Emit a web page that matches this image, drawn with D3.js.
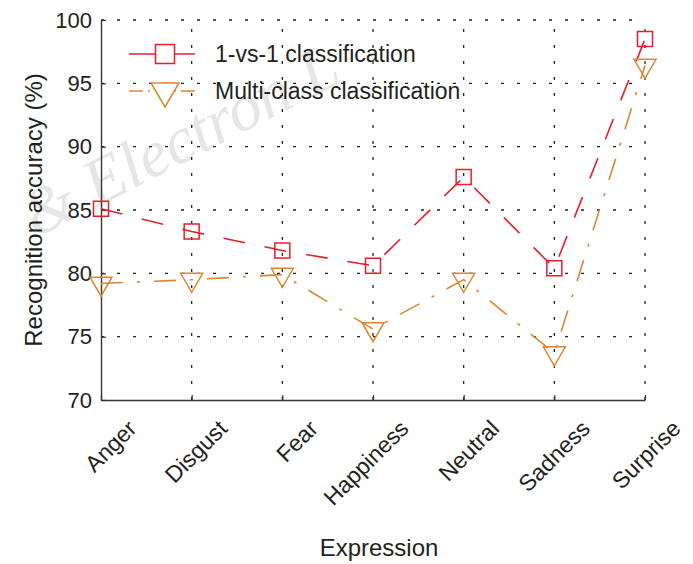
<!DOCTYPE html>
<html>
<head>
<meta charset="utf-8">
<script src="https://cdn.jsdelivr.net/npm/d3@7"></script>
<style>
	body { margin: 0; background: #fff; }
	text { font-family: "Liberation Sans", Arial, sans-serif; fill: #231f20; }
</style>
</head>
<body>
<div id="chart"></div>
<script>
const categories = ["Anger", "Disgust", "Fear", "Happiness", "Neutral", "Sadness", "Surprise"];
const oneVsOne = [85.1, 83.3, 81.8, 80.6, 87.6, 80.4, 98.5];
const multiClass = [79.2, 79.5, 79.9, 75.6, 79.5, 73.7, 96.4];
const yTicks = [70, 75, 80, 85, 90, 95, 100];
const seriesNames = ["1-vs-1 classification", "Multi-class classification"];

const W = 693, H = 564;
const margin = { top: 20, right: 48, bottom: 164, left: 101 };

const red = "#ec1c2a", orange = "#dc8635", axisCol = "#3a3434";

const svg = d3.select("#chart").append("svg")
	.attr("width", W).attr("height", H);

// watermark (faint, behind everything)
svg.append("text")
	.attr("transform", "translate(36,238) rotate(-27)")
	.style("font-family", "'Liberation Serif', serif")
	.style("font-style", "italic")
	.style("font-size", "66px")
	.style("fill", "#e6e6e6")
	.text("& Electron L");

const x = d3.scalePoint().domain(categories).range([margin.left, W - margin.right]);
const y = d3.scaleLinear().domain([70, 100]).range([H - margin.bottom, margin.top]);

const x0 = x.range()[0], x1 = x.range()[1], y0 = y.range()[0], y1 = y.range()[1];

// grid, dotted
const grid = svg.append("g").attr("stroke", "#222").attr("stroke-width", 1.3)
	.attr("stroke-dasharray", "3,13");
grid.selectAll(".hg").data(yTicks.slice(1)).join("line")
	.attr("x1", x0).attr("x2", x1)
	.attr("y1", d => y(d)).attr("y2", d => y(d));
grid.selectAll(".vg").data(categories.slice(1)).join("line")
	.attr("x1", d => x(d)).attr("x2", d => x(d))
	.attr("y1", y0).attr("y2", y1);

// axes
const yAxis = svg.append("g").attr("transform", `translate(${x0},0)`)
	.call(d3.axisLeft(y).tickValues(yTicks).tickSizeInner(-5).tickSizeOuter(0).tickPadding(9));
const xAxis = svg.append("g").attr("transform", `translate(0,${y0})`)
	.call(d3.axisBottom(x).tickSizeInner(-5).tickSizeOuter(0).tickFormat(""));
[yAxis, xAxis].forEach(a => {
	a.select(".domain").attr("stroke", axisCol).attr("stroke-width", 1.4);
	a.selectAll(".tick line").attr("stroke", axisCol).attr("stroke-width", 1.2);
});
yAxis.selectAll(".tick text").style("font-size", "22px").attr("fill", "#231f20");

// x tick labels rotated
svg.append("g").selectAll("text").data(categories).join("text")
	.attr("transform", d => `translate(${x(d) + 37},${y0 + 30}) rotate(-45)`)
	.attr("text-anchor", "end")
	.style("font-size", "23px")
	.text(d => d);

// axis titles
svg.append("text")
	.attr("transform", `translate(42,${(y0 + y1) / 2}) rotate(-90)`)
	.attr("text-anchor", "middle")
	.style("font-size", "24px")
	.text("Recognition accuracy (%)");
svg.append("text")
	.attr("x", 379).attr("y", 556)
	.attr("text-anchor", "middle")
	.style("font-size", "24px")
	.text("Expression");

// series
const line = d3.line().x((d, i) => x(categories[i])).y(d => y(d));

svg.append("path").datum(oneVsOne)
	.attr("d", line).attr("fill", "none")
	.attr("stroke", red).attr("stroke-width", 1.6)
	.attr("stroke-dasharray", "22,20");
svg.append("path").datum(multiClass)
	.attr("d", line).attr("fill", "none")
	.attr("stroke", orange).attr("stroke-width", 1.6)
	.attr("stroke-dasharray", "22,14,3,14");

function square(s) {
	return `M${-s / 2},${-s / 2}h${s}v${s}h${-s}Z`;
}
function triangle(w, h) {
	// downward triangle, point sits a third below the top edge
	return `M${-w / 2},${-h / 3}L${w / 2},${-h / 3}L0,${2 * h / 3}Z`;
}

svg.append("g").selectAll("path").data(oneVsOne).join("path")
	.attr("transform", (d, i) => `translate(${x(categories[i])},${y(d)})`)
	.attr("d", square(15))
	.attr("fill", "none").attr("stroke", red).attr("stroke-width", 1.5);
svg.append("g").selectAll("path").data(multiClass).join("path")
	.attr("transform", (d, i) => `translate(${x(categories[i])},${y(d)})`)
	.attr("d", triangle(22, 19))
	.attr("fill", "none").attr("stroke", orange).attr("stroke-width", 1.5);

// legend
const legend = svg.append("g");
const rows = [
	{ name: seriesNames[0], color: red, dash: null, mark: square(19), yy: 54 },
	{ name: seriesNames[1], color: orange, dash: "14,5,2,5", mark: triangle(28, 24), yy: 91 }
];
rows.forEach(r => {
	legend.append("line")
		.attr("x1", 129).attr("x2", 195).attr("y1", r.yy).attr("y2", r.yy)
		.attr("stroke", r.color).attr("stroke-width", 1.6)
		.attr("stroke-dasharray", r.dash);
	legend.append("path")
		.attr("transform", `translate(165,${r.yy})`)
		.attr("d", r.mark)
		.attr("fill", "#fff").attr("stroke", r.color).attr("stroke-width", 1.5);
	legend.append("text")
		.attr("x", 215).attr("y", r.yy + 8)
		.style("font-size", "23px")
		.text(r.name);
});
</script>
</body>
</html>
